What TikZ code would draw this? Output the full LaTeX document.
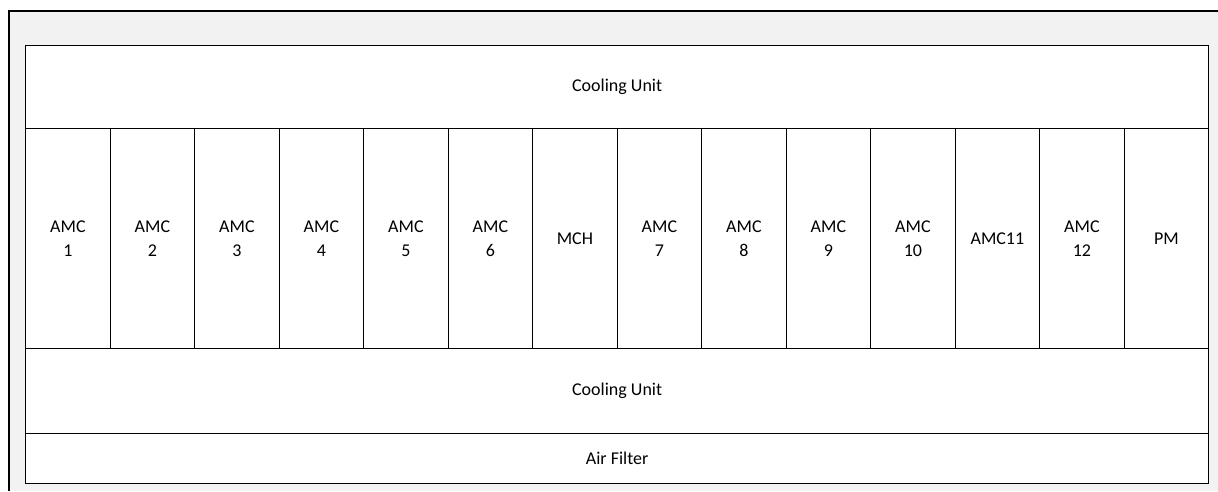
\documentclass[tikz,border=0pt]{standalone}
\usepackage{fontspec}
\setmainfont{Carlito}
\usetikzlibrary{positioning}
\definecolor{chassisgray}{HTML}{F2F2F2}
\begin{document}
\begin{tikzpicture}[x=1pt, y=1pt,
    unit/.style={draw, fill=white, line width=1.3pt, inner sep=0pt, anchor=north west, align=center, font=\fontsize{18}{24}\selectfont}]
    \useasboundingbox (0,0) rectangle (1218,-491);
    % chassis
    \fill[chassisgray] (9,-11) rectangle (1218,-491);
    \draw[line width=1.3pt] (9,-491) -- (9,-11) -- (1218,-11);
    \node[unit, minimum width=1183pt, minimum height=83pt] (cooltop) at (25,-45) {Cooling Unit};
    \foreach \lab [count=\i from 0] in {{AMC\\1}, {AMC\\2}, {AMC\\3}, {AMC\\4}, {AMC\\5}, {AMC\\6}, MCH, {AMC\\7}, {AMC\\8}, {AMC\\9}, {AMC\\10}, AMC11, {AMC\\12}, PM}
        \node[unit, minimum width=84.5pt, minimum height=220pt] (slot\i) at ({25+84.5*\i},-128) {\lab};
    \node[unit, minimum width=1183pt, minimum height=85pt] (coolbot) at (25,-348) {Cooling Unit};
    \node[unit, minimum width=1183pt, minimum height=50pt] (filter) at (25,-433) {Air Filter};
\end{tikzpicture}
\end{document}
